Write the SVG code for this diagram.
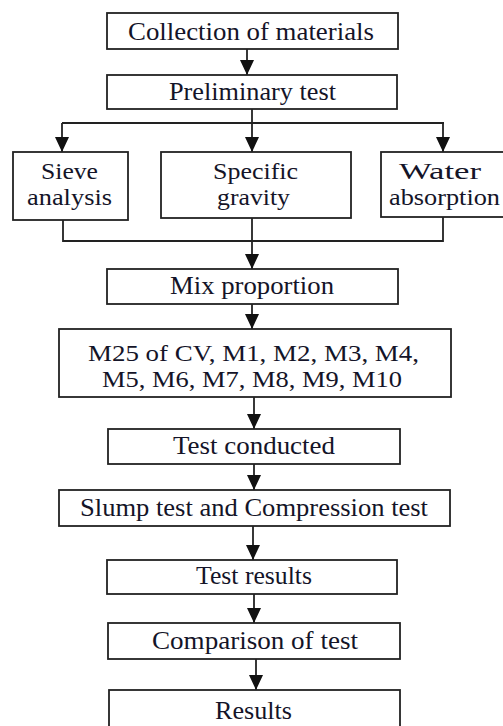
<svg xmlns="http://www.w3.org/2000/svg" width="503" height="726" viewBox="0 0 503 726">
<defs>
<marker id="ah" markerUnits="userSpaceOnUse" markerWidth="15" markerHeight="14" viewBox="0 0 15 14" refX="15" refY="7" orient="auto">
<path d="M0,0 L15,7 L0,14 Z" fill="#111"/>
</marker>
<style>
.box{fill:#fff;stroke:#222;stroke-width:1.8}
.t{font-family:"Liberation Serif","Times New Roman",serif;font-size:25px;fill:#141428;text-anchor:middle}
.t2{font-size:23px}
.c{fill:none;stroke:#222;stroke-width:1.8}
.a{fill:none;stroke:#222;stroke-width:1.8;marker-end:url(#ah)}
</style>
</defs>
<rect width="503" height="726" fill="#fff"/>
<g id="connectors">
<line class="a" x1="247" y1="49" x2="247" y2="75"/>
<polyline class="c" points="252,109 252,123"/>
<line class="c" x1="62" y1="123" x2="444" y2="123"/>
<line class="a" x1="62" y1="123" x2="62" y2="152"/>
<line class="a" x1="252" y1="123" x2="252" y2="152"/>
<line class="a" x1="443" y1="123" x2="443" y2="152"/>
<polyline class="c" points="63,220 63,241 443,241 443,217"/>
<line class="a" x1="252" y1="218" x2="252" y2="269"/>
<line class="a" x1="252" y1="304" x2="252" y2="329"/>
<line class="a" x1="254" y1="397" x2="254" y2="429"/>
<line class="a" x1="254" y1="464" x2="254" y2="490"/>
<line class="a" x1="253" y1="526" x2="253" y2="560"/>
<line class="a" x1="254" y1="594" x2="254" y2="623"/>
<line class="a" x1="256" y1="659" x2="256" y2="690"/>
</g>
<g id="collection">
<rect class="box" x="107" y="13" width="291" height="36"/>
<text class="t" x="251" y="40" textLength="246" lengthAdjust="spacingAndGlyphs">Collection of materials</text>
</g>
<g id="preliminary">
<rect class="box" x="107" y="75" width="290" height="34"/>
<text class="t" x="252.5" y="100" textLength="167" lengthAdjust="spacingAndGlyphs">Preliminary test</text>
</g>
<g id="sieve">
<rect class="box" x="13" y="152" width="115" height="68"/>
<text class="t t2" x="69.5" y="179" textLength="57" lengthAdjust="spacingAndGlyphs">Sieve</text>
<text class="t t2" x="69.5" y="205" textLength="85" lengthAdjust="spacingAndGlyphs">analysis</text>
</g>
<g id="specific">
<rect class="box" x="161" y="152" width="190" height="66"/>
<text class="t t2" x="255.5" y="179" textLength="85" lengthAdjust="spacingAndGlyphs">Specific</text>
<text class="t t2" x="253.5" y="205" textLength="73" lengthAdjust="spacingAndGlyphs">gravity</text>
</g>
<g id="water">
<rect class="box" x="381" y="152" width="130" height="65"/>
<text class="t t2" x="440" y="179" textLength="82" lengthAdjust="spacingAndGlyphs">Water</text>
<text class="t t2" x="444.5" y="205" textLength="111" lengthAdjust="spacingAndGlyphs">absorption</text>
</g>
<g id="mix">
<rect class="box" x="107" y="269" width="291" height="35"/>
<text class="t" x="252" y="294" textLength="164" lengthAdjust="spacingAndGlyphs">Mix proportion</text>
</g>
<g id="m25">
<rect class="box" x="59" y="329" width="392" height="68"/>
<text class="t t2" x="253.5" y="361" textLength="331" lengthAdjust="spacingAndGlyphs">M25 of CV, M1, M2, M3, M4,</text>
<text class="t t2" x="252" y="387" textLength="300" lengthAdjust="spacingAndGlyphs">M5, M6, M7, M8, M9, M10</text>
</g>
<g id="conducted">
<rect class="box" x="108" y="429" width="292" height="35"/>
<text class="t" x="254" y="454" textLength="162" lengthAdjust="spacingAndGlyphs">Test conducted</text>
</g>
<g id="slump">
<rect class="box" x="59" y="490" width="391" height="36"/>
<text class="t" x="254" y="516" textLength="348" lengthAdjust="spacingAndGlyphs">Slump test and Compression test</text>
</g>
<g id="testresults">
<rect class="box" x="107" y="560" width="290" height="34"/>
<text class="t" x="254" y="584" textLength="116" lengthAdjust="spacingAndGlyphs">Test results</text>
</g>
<g id="comparison">
<rect class="box" x="108" y="623" width="292" height="36"/>
<text class="t" x="255" y="649" textLength="206" lengthAdjust="spacingAndGlyphs">Comparison of test</text>
</g>
<g id="results">
<rect class="box" x="109" y="690" width="291" height="50"/>
<text class="t" x="253.5" y="719" textLength="77" lengthAdjust="spacingAndGlyphs">Results</text>
</g>
</svg>
